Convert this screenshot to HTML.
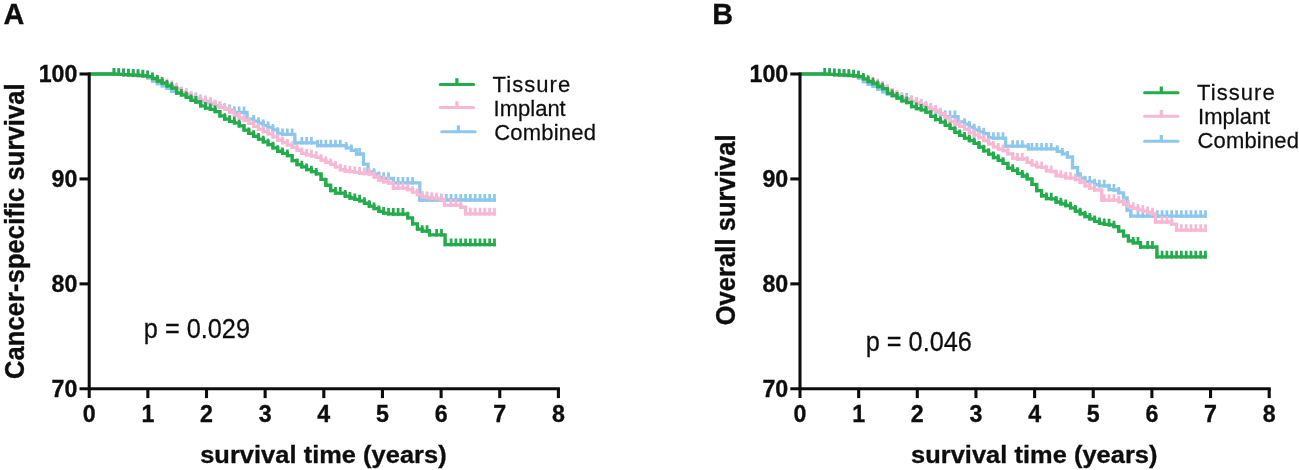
<!DOCTYPE html>
<html lang="en"><head><meta charset="utf-8"><title>Survival curves</title>
<style>html,body{margin:0;padding:0;background:#fff;}svg{display:block;}</style></head>
<body>
<svg width="1299" height="470" viewBox="0 0 1299 470">
<defs><filter id="soft" x="0" y="0" width="1299" height="470" filterUnits="userSpaceOnUse"><feGaussianBlur stdDeviation="0.3"/></filter></defs>
<rect width="1299" height="470" fill="#ffffff"/>
<g filter="url(#soft)">
<path d="M89.20,74.00H113.95V74.08H118.77V74.36H123.58V74.64H128.40V74.92H133.22V75.20H138.03V75.49H142.85V76.37H147.67V77.93H152.48V81.06H157.30V83.64H162.11V85.83H166.93V88.46H171.75V91.25H176.56V93.38H181.38V94.97H186.20V96.36H191.01V97.67H195.83V98.49H200.65V100.84H205.46V102.65H210.28V104.28H215.10V105.87H219.91V107.44H224.73V109.18H229.54V110.40H234.36V112.50H239.18H243.99H247.02V119.20H253.63V121.03H258.44V123.24H263.26V125.59H268.08V127.55H272.89V129.88H277.71V133.37H282.53V134.40H287.34H292.16H294.82V142.90H301.79H306.61H311.42H317.52V145.70H321.06H325.87H330.69H335.51H340.32H346.22V147.90H351.32V150.40H356.42V154.00H359.59H363.52V164.20H368.02V172.00H374.04V174.17H378.86V177.48H383.67V178.30H388.49H393.32V182.90H398.12H402.94H407.75H412.57H419.82V200.00H422.20H427.02H431.84H436.65H441.47H446.29H451.10H455.92H460.73H465.55H470.37H475.18H480.00H484.82H489.63H494.45H495.80" fill="none" stroke="#8CC8EE" stroke-width="3.3" stroke-linejoin="miter"/>
<path d="M113.95,75.73V68.08M118.77,76.01V68.36M123.58,76.29V68.64M128.40,76.57V68.92M133.22,76.85V69.20M138.03,77.14V69.49M142.85,78.02V70.37M147.67,79.58V71.93M152.48,82.71V75.06M157.30,85.29V77.64M162.11,87.48V79.83M166.93,90.11V82.46M171.75,92.90V85.25M176.56,95.03V87.38M181.38,96.62V88.97M186.20,98.01V90.36M191.01,99.32V91.67M195.83,100.14V92.49M200.65,102.49V94.84M205.46,104.30V96.65M210.28,105.93V98.28M215.10,107.52V99.87M219.91,109.09V101.44M224.73,110.83V103.18M229.54,112.05V104.40M234.36,114.15V106.50M239.18,114.15V106.50M243.99,114.15V106.50M247.02,120.85V113.20M253.63,122.68V115.03M258.44,124.89V117.24M263.26,127.24V119.59M268.08,129.20V121.55M272.89,131.53V123.88M277.71,135.02V127.37M282.53,136.05V128.40M287.34,136.05V128.40M292.16,136.05V128.40M294.82,144.55V136.90M301.79,144.55V136.90M306.61,144.55V136.90M311.42,144.55V136.90M317.52,147.35V139.70M321.06,147.35V139.70M325.87,147.35V139.70M330.69,147.35V139.70M335.51,147.35V139.70M340.32,147.35V139.70M346.22,149.55V141.90M351.32,152.05V144.40M356.42,155.65V148.00M359.59,155.65V148.00M363.52,165.85V158.20M368.02,173.65V166.00M374.04,175.82V168.17M378.86,179.13V171.48M383.67,179.95V172.30M388.49,179.95V172.30M393.32,184.55V176.90M398.12,184.55V176.90M402.94,184.55V176.90M407.75,184.55V176.90M412.57,184.55V176.90M419.82,201.65V194.00M422.20,201.65V194.00M427.02,201.65V194.00M431.84,201.65V194.00M436.65,201.65V194.00M441.47,201.65V194.00M446.29,201.65V194.00M451.10,201.65V194.00M455.92,201.65V194.00M460.73,201.65V194.00M465.55,201.65V194.00M470.37,201.65V194.00M475.18,201.65V194.00M480.00,201.65V194.00M484.82,201.65V194.00M489.63,201.65V194.00M494.45,201.65V194.00" fill="none" stroke="#8CC8EE" stroke-width="2.7"/>
<path d="M89.20,74.00H113.95V74.10H118.77V74.47H123.58V74.83H128.40V75.19H133.22V75.56H138.03V75.92H142.85V76.29H147.67V76.87H152.48V78.79H157.30V80.72H162.11V82.65H166.93V84.57H171.75V86.60H176.56V88.79H181.38V92.47H186.20V94.12H191.01V97.14H195.83V99.75H200.65V100.46H205.46V101.39H210.28V103.20H215.10V105.88H219.91V107.57H224.73V109.46H229.54V112.09H234.36V115.27H239.18V118.02H243.99V120.35H248.81V123.32H253.63V126.40H258.44V129.38H263.26V131.68H268.08V133.93H272.89V136.88H277.71V140.07H282.53V142.50H287.34V144.88H292.16V147.32H296.98V150.25H301.79V153.46H306.61V154.89H311.42V155.78H316.24V157.28H321.06V160.21H325.87V162.44H330.69V164.46H335.51V166.94H340.32V169.75H345.14V171.01H349.96V171.70H354.77V172.39H359.59V173.08H364.41V173.50H369.22V174.01H374.04V176.98H378.86V180.07H383.67V181.82H388.49V183.00H393.30V188.20H398.12H402.94H407.75V189.51H412.57V192.19H417.39V194.55H422.20V196.93H427.02V197.53H431.84V198.13H436.65V198.78H441.47V199.48H444.42V205.10H451.10H455.92H460.73V207.25H465.55V213.80H470.37H475.18H480.00H484.82H489.63H494.45H495.80" fill="none" stroke="#F8B8D4" stroke-width="3.3" stroke-linejoin="miter"/>
<path d="M113.95,75.75V68.10M118.77,76.12V68.47M123.58,76.48V68.83M128.40,76.84V69.19M133.22,77.21V69.56M138.03,77.57V69.92M142.85,77.94V70.29M147.67,78.52V70.87M152.48,80.44V72.79M157.30,82.37V74.72M162.11,84.30V76.65M166.93,86.22V78.57M171.75,88.25V80.60M176.56,90.44V82.79M181.38,94.12V86.47M186.20,95.77V88.12M191.01,98.79V91.14M195.83,101.40V93.75M200.65,102.11V94.46M205.46,103.04V95.39M210.28,104.85V97.20M215.10,107.53V99.88M219.91,109.22V101.57M224.73,111.11V103.46M229.54,113.74V106.09M234.36,116.92V109.27M239.18,119.67V112.02M243.99,122.00V114.35M248.81,124.97V117.32M253.63,128.05V120.40M258.44,131.03V123.38M263.26,133.33V125.68M268.08,135.58V127.93M272.89,138.53V130.88M277.71,141.72V134.07M282.53,144.15V136.50M287.34,146.53V138.88M292.16,148.97V141.32M296.98,151.90V144.25M301.79,155.11V147.46M306.61,156.54V148.89M311.42,157.43V149.78M316.24,158.93V151.28M321.06,161.86V154.21M325.87,164.09V156.44M330.69,166.11V158.46M335.51,168.59V160.94M340.32,171.40V163.75M345.14,172.66V165.01M349.96,173.35V165.70M354.77,174.04V166.39M359.59,174.73V167.08M364.41,175.15V167.50M369.22,175.66V168.01M374.04,178.63V170.98M378.86,181.72V174.07M383.67,183.47V175.82M388.49,184.65V177.00M393.30,189.85V182.20M398.12,189.85V182.20M402.94,189.85V182.20M407.75,191.16V183.51M412.57,193.84V186.19M417.39,196.20V188.55M422.20,198.58V190.93M427.02,199.18V191.53M431.84,199.78V192.13M436.65,200.43V192.78M441.47,201.13V193.48M444.42,206.75V199.10M451.10,206.75V199.10M455.92,206.75V199.10M460.73,208.90V201.25M465.55,215.45V207.80M470.37,215.45V207.80M475.18,215.45V207.80M480.00,215.45V207.80M484.82,215.45V207.80M489.63,215.45V207.80M494.45,215.45V207.80" fill="none" stroke="#F8B8D4" stroke-width="2.7"/>
<path d="M89.20,74.00H113.95V74.07H118.77V74.32H123.58V74.58H128.40V74.83H133.22V75.07H138.03V75.30H142.85V75.77H147.67V76.57H152.48V78.49H157.30V81.02H162.11V83.14H166.93V85.96H171.75V88.18H176.56V92.86H181.38V94.96H186.20V97.47H191.01V100.39H195.83V102.02H200.65V105.97H205.46V108.09H210.28V109.38H215.10V111.57H219.91V115.89H224.73V119.15H229.54V121.32H234.36V122.80H239.18V125.79H243.99V130.06H248.81V133.47H253.63V136.25H258.44V139.03H263.26V141.81H268.08V144.72H272.89V147.87H277.71V151.26H282.53V153.40H287.34V155.57H292.16V160.67H296.98V164.61H301.79V166.78H306.61V169.57H311.42V171.69H316.24V173.93H321.06V179.37H325.87V185.25H330.69V190.54H335.51V193.10H340.32H345.14V196.08H349.96V197.99H354.77V199.42H359.59V200.84H364.41V203.25H369.22V206.17H374.04V208.53H378.86V211.41H383.67V213.11H388.49V213.93H393.30V214.10H398.12H402.94H407.75V217.86H412.57V223.78H417.39V229.22H422.20V231.20H427.02H429.52V234.90H436.65H441.47H445.12V244.60H451.10H455.92H460.73H465.55H470.37H475.18H480.00H484.82H489.63H494.45H495.80" fill="none" stroke="#21AC4B" stroke-width="3.3" stroke-linejoin="miter"/>
<path d="M113.95,75.72V68.07M118.77,75.97V68.32M123.58,76.23V68.58M128.40,76.48V68.83M133.22,76.72V69.07M138.03,76.95V69.30M142.85,77.42V69.77M147.67,78.22V70.57M152.48,80.14V72.49M157.30,82.67V75.02M162.11,84.79V77.14M166.93,87.61V79.96M171.75,89.83V82.18M176.56,94.51V86.86M181.38,96.61V88.96M186.20,99.12V91.47M191.01,102.04V94.39M195.83,103.67V96.02M200.65,107.62V99.97M205.46,109.74V102.09M210.28,111.03V103.38M215.10,113.22V105.57M219.91,117.54V109.89M224.73,120.80V113.15M229.54,122.97V115.32M234.36,124.45V116.80M239.18,127.44V119.79M243.99,131.71V124.06M248.81,135.12V127.47M253.63,137.90V130.25M258.44,140.68V133.03M263.26,143.46V135.81M268.08,146.37V138.72M272.89,149.52V141.87M277.71,152.91V145.26M282.53,155.05V147.40M287.34,157.22V149.57M292.16,162.32V154.67M296.98,166.26V158.61M301.79,168.43V160.78M306.61,171.22V163.57M311.42,173.34V165.69M316.24,175.58V167.93M321.06,181.02V173.37M325.87,186.90V179.25M330.69,192.19V184.54M335.51,194.75V187.10M340.32,194.75V187.10M345.14,197.73V190.08M349.96,199.64V191.99M354.77,201.07V193.42M359.59,202.49V194.84M364.41,204.90V197.25M369.22,207.82V200.17M374.04,210.18V202.53M378.86,213.06V205.41M383.67,214.76V207.11M388.49,215.58V207.93M393.30,215.75V208.10M398.12,215.75V208.10M402.94,215.75V208.10M407.75,219.51V211.86M412.57,225.43V217.78M417.39,230.87V223.22M422.20,232.85V225.20M427.02,232.85V225.20M429.52,236.55V228.90M436.65,236.55V228.90M441.47,236.55V228.90M445.12,246.25V238.60M451.10,246.25V238.60M455.92,246.25V238.60M460.73,246.25V238.60M465.55,246.25V238.60M470.37,246.25V238.60M475.18,246.25V238.60M480.00,246.25V238.60M484.82,246.25V238.60M489.63,246.25V238.60M494.45,246.25V238.60" fill="none" stroke="#21AC4B" stroke-width="2.7"/>
<g stroke="#111111" stroke-width="3.1" fill="none">
<path d="M89.20,72.45V398.10"/>
<path d="M79.50,388.8H559.95"/>
<path d="M79.50,74.00H89.20"/>
<path d="M79.50,178.93H89.20"/>
<path d="M79.50,283.87H89.20"/>
<path d="M147.85,388.8V398.10"/>
<path d="M206.50,388.8V398.10"/>
<path d="M265.15,388.8V398.10"/>
<path d="M323.80,388.8V398.10"/>
<path d="M382.45,388.8V398.10"/>
<path d="M441.10,388.8V398.10"/>
<path d="M499.75,388.8V398.10"/>
<path d="M558.40,388.8V398.10"/>
</g>
<g font-family="Liberation Sans, Arial, sans-serif" font-weight="bold" font-size="23.2" fill="#111111" stroke="#111111" stroke-width="0.35">
<text x="77.40" y="82.30" text-anchor="end">100</text>
<text x="77.40" y="187.23" text-anchor="end">90</text>
<text x="77.40" y="292.17" text-anchor="end">80</text>
<text x="77.40" y="397.10" text-anchor="end">70</text>
<text x="89.20" y="421.6" text-anchor="middle">0</text>
<text x="147.85" y="421.6" text-anchor="middle">1</text>
<text x="206.50" y="421.6" text-anchor="middle">2</text>
<text x="265.15" y="421.6" text-anchor="middle">3</text>
<text x="323.80" y="421.6" text-anchor="middle">4</text>
<text x="382.45" y="421.6" text-anchor="middle">5</text>
<text x="441.10" y="421.6" text-anchor="middle">6</text>
<text x="499.75" y="421.6" text-anchor="middle">7</text>
<text x="558.40" y="421.6" text-anchor="middle">8</text>
</g>
<path d="M800.00,74.00H824.75V74.08H829.57V74.36H834.39V74.64H839.21V74.92H844.03V75.20H848.84V75.49H853.66V76.38H858.48V78.01H863.30V81.63H868.12V84.25H872.94V86.44H877.76V89.08H882.58V91.87H887.40V93.99H892.22V95.58H897.03V96.97H901.85V98.28H906.67V99.09H911.49V101.46H916.31V103.54H921.13V105.52H925.95V107.54H930.77V109.58H935.59V111.82H940.41V114.35H945.22V116.60H950.04H954.86H958.02V121.80H964.50V124.20H969.32V127.06H974.14V129.84H978.96V131.94H983.78V133.67H988.60V137.64H993.41V138.20H998.23H1003.05H1005.62V146.20H1012.69H1017.51H1022.33H1028.42V148.90H1031.97H1036.79H1041.60H1046.42H1051.24H1057.22V151.30H1062.32V153.90H1067.42V157.00H1072.52V167.70H1077.62V175.01H1080.16V178.12H1084.98V181.68H1089.79V181.89H1094.61V184.70H1099.43V185.80H1104.25H1109.07V189.63H1113.89V190.10H1118.71V192.93H1123.53V197.94H1127.12V210.10H1130.82V216.20H1137.98H1142.80H1147.62H1152.44H1157.26H1162.08H1166.90H1171.72H1176.54H1181.36H1186.17H1190.99H1195.81H1200.63H1205.45H1206.80" fill="none" stroke="#8CC8EE" stroke-width="3.3" stroke-linejoin="miter"/>
<path d="M824.75,75.73V68.08M829.57,76.01V68.36M834.39,76.29V68.64M839.21,76.57V68.92M844.03,76.85V69.20M848.84,77.14V69.49M853.66,78.03V70.38M858.48,79.66V72.01M863.30,83.28V75.63M868.12,85.90V78.25M872.94,88.09V80.44M877.76,90.73V83.08M882.58,93.52V85.87M887.40,95.64V87.99M892.22,97.23V89.58M897.03,98.62V90.97M901.85,99.93V92.28M906.67,100.74V93.09M911.49,103.11V95.46M916.31,105.19V97.54M921.13,107.17V99.52M925.95,109.19V101.54M930.77,111.23V103.58M935.59,113.47V105.82M940.41,116.00V108.35M945.22,118.25V110.60M950.04,118.25V110.60M954.86,118.25V110.60M958.02,123.45V115.80M964.50,125.85V118.20M969.32,128.71V121.06M974.14,131.49V123.84M978.96,133.59V125.94M983.78,135.32V127.67M988.60,139.29V131.64M993.41,139.85V132.20M998.23,139.85V132.20M1003.05,139.85V132.20M1005.62,147.85V140.20M1012.69,147.85V140.20M1017.51,147.85V140.20M1022.33,147.85V140.20M1028.42,150.55V142.90M1031.97,150.55V142.90M1036.79,150.55V142.90M1041.60,150.55V142.90M1046.42,150.55V142.90M1051.24,150.55V142.90M1057.22,152.95V145.30M1062.32,155.55V147.90M1067.42,158.65V151.00M1072.52,169.35V161.70M1077.62,176.66V169.01M1080.16,179.77V172.12M1084.98,183.33V175.68M1089.79,183.54V175.89M1094.61,186.35V178.70M1099.43,187.45V179.80M1104.25,187.45V179.80M1109.07,191.28V183.63M1113.89,191.75V184.10M1118.71,194.58V186.93M1123.53,199.59V191.94M1127.12,211.75V204.10M1130.82,217.85V210.20M1137.98,217.85V210.20M1142.80,217.85V210.20M1147.62,217.85V210.20M1152.44,217.85V210.20M1157.26,217.85V210.20M1162.08,217.85V210.20M1166.90,217.85V210.20M1171.72,217.85V210.20M1176.54,217.85V210.20M1181.36,217.85V210.20M1186.17,217.85V210.20M1190.99,217.85V210.20M1195.81,217.85V210.20M1200.63,217.85V210.20M1205.45,217.85V210.20" fill="none" stroke="#8CC8EE" stroke-width="2.7"/>
<path d="M800.00,74.00H824.75V74.10H829.57V74.47H834.39V74.83H839.21V75.19H844.03V75.56H848.84V75.92H853.66V76.29H858.48V76.87H863.30V78.80H868.12V80.73H872.94V82.66H877.76V84.58H882.58V87.00H887.40V90.26H892.22V94.00H897.03V95.63H901.85V98.67H906.67V101.27H911.49V101.97H916.31V102.90H921.13V104.72H925.95V107.41H930.77V109.09H935.59V110.98H940.41V113.63H945.22V117.96H950.04V121.36H954.86V124.02H959.68V126.40H964.50V129.43H969.32V132.68H974.14V135.15H978.96V137.54H983.78V140.54H988.60V143.79H993.41V146.93H998.23V149.05H1003.05V150.53H1007.87V153.84H1012.69V158.21H1017.51V159.00H1022.33H1027.15V162.29H1031.97V164.97H1036.79V166.81H1041.60V167.47H1046.42V170.86H1051.24V171.55H1056.06V175.48H1060.88V176.17H1065.70V177.79H1070.52V178.15H1075.34V179.65H1080.16V182.27H1084.98V185.88H1089.79V188.03H1094.61V190.01H1101.82V200.20H1104.25H1109.07H1113.89H1118.71V201.66H1123.53V204.37H1128.35V206.30H1133.17V208.25H1137.98V209.89H1142.80V211.06H1147.62V212.38H1152.44V213.84H1155.42V222.00H1162.08H1166.90H1171.72V224.13H1176.54V230.20H1181.36H1186.17H1190.99H1195.81H1200.63H1205.45H1206.80" fill="none" stroke="#F8B8D4" stroke-width="3.3" stroke-linejoin="miter"/>
<path d="M824.75,75.75V68.10M829.57,76.12V68.47M834.39,76.48V68.83M839.21,76.84V69.19M844.03,77.21V69.56M848.84,77.57V69.92M853.66,77.94V70.29M858.48,78.52V70.87M863.30,80.45V72.80M868.12,82.38V74.73M872.94,84.31V76.66M877.76,86.23V78.58M882.58,88.65V81.00M887.40,91.91V84.26M892.22,95.65V88.00M897.03,97.28V89.63M901.85,100.32V92.67M906.67,102.92V95.27M911.49,103.62V95.97M916.31,104.55V96.90M921.13,106.37V98.72M925.95,109.06V101.41M930.77,110.74V103.09M935.59,112.63V104.98M940.41,115.28V107.63M945.22,119.61V111.96M950.04,123.01V115.36M954.86,125.67V118.02M959.68,128.05V120.40M964.50,131.08V123.43M969.32,134.33V126.68M974.14,136.80V129.15M978.96,139.19V131.54M983.78,142.19V134.54M988.60,145.44V137.79M993.41,148.58V140.93M998.23,150.70V143.05M1003.05,152.18V144.53M1007.87,155.49V147.84M1012.69,159.86V152.21M1017.51,160.65V153.00M1022.33,160.65V153.00M1027.15,163.94V156.29M1031.97,166.62V158.97M1036.79,168.46V160.81M1041.60,169.12V161.47M1046.42,172.51V164.86M1051.24,173.20V165.55M1056.06,177.13V169.48M1060.88,177.82V170.17M1065.70,179.44V171.79M1070.52,179.80V172.15M1075.34,181.30V173.65M1080.16,183.92V176.27M1084.98,187.53V179.88M1089.79,189.68V182.03M1094.61,191.66V184.01M1101.82,201.85V194.20M1104.25,201.85V194.20M1109.07,201.85V194.20M1113.89,201.85V194.20M1118.71,203.31V195.66M1123.53,206.02V198.37M1128.35,207.95V200.30M1133.17,209.90V202.25M1137.98,211.54V203.89M1142.80,212.71V205.06M1147.62,214.03V206.38M1152.44,215.49V207.84M1155.42,223.65V216.00M1162.08,223.65V216.00M1166.90,223.65V216.00M1171.72,225.78V218.13M1176.54,231.85V224.20M1181.36,231.85V224.20M1186.17,231.85V224.20M1190.99,231.85V224.20M1195.81,231.85V224.20M1200.63,231.85V224.20M1205.45,231.85V224.20" fill="none" stroke="#F8B8D4" stroke-width="2.7"/>
<path d="M800.00,74.00H824.75V74.07H829.57V74.32H834.39V74.58H839.21V74.83H844.03V75.07H848.84V75.31H853.66V75.77H858.48V76.63H863.30V78.96H868.12V81.53H872.94V83.65H877.76V86.48H882.58V88.70H887.40V93.40H892.22V95.48H897.03V97.99H901.85V100.91H906.67V102.53H911.49V106.51H916.31V108.60H921.13V109.90H925.95V112.12H930.77V116.43H935.59V119.68H940.41V122.21H945.22V125.30H950.04V128.39H954.86V132.35H959.68V135.40H964.50V138.03H969.32V140.63H974.14V143.43H978.96V147.03H983.78V150.79H988.60V154.18H993.41V157.51H998.23V160.34H1003.05V163.28H1007.87V168.10H1012.69V170.32H1017.51V173.31H1022.33V176.02H1027.15V178.80H1031.97V184.33H1036.79V190.71H1041.60V195.76H1046.42V198.62H1051.24V198.79H1056.06V201.99H1060.88V203.78H1065.70V205.52H1070.52V207.79H1075.34V211.04H1080.16V213.75H1084.98V216.72H1089.79V218.91H1094.61V221.39H1099.43V223.39H1104.25V224.46H1109.07V224.79H1113.89V226.69H1118.71V231.20H1123.53V235.86H1128.35V240.88H1133.17V242.90H1137.98H1140.52V247.00H1147.62H1152.44H1156.92V256.80H1162.08H1166.90H1171.72H1176.54H1181.36H1186.17H1190.99H1195.81H1200.63H1205.45H1206.80" fill="none" stroke="#21AC4B" stroke-width="3.3" stroke-linejoin="miter"/>
<path d="M824.75,75.72V68.07M829.57,75.97V68.32M834.39,76.23V68.58M839.21,76.48V68.83M844.03,76.72V69.07M848.84,76.96V69.31M853.66,77.42V69.77M858.48,78.28V70.63M863.30,80.61V72.96M868.12,83.18V75.53M872.94,85.30V77.65M877.76,88.13V80.48M882.58,90.35V82.70M887.40,95.05V87.40M892.22,97.13V89.48M897.03,99.64V91.99M901.85,102.56V94.91M906.67,104.18V96.53M911.49,108.16V100.51M916.31,110.25V102.60M921.13,111.55V103.90M925.95,113.77V106.12M930.77,118.08V110.43M935.59,121.33V113.68M940.41,123.86V116.21M945.22,126.95V119.30M950.04,130.04V122.39M954.86,134.00V126.35M959.68,137.05V129.40M964.50,139.68V132.03M969.32,142.28V134.63M974.14,145.08V137.43M978.96,148.68V141.03M983.78,152.44V144.79M988.60,155.83V148.18M993.41,159.16V151.51M998.23,161.99V154.34M1003.05,164.93V157.28M1007.87,169.75V162.10M1012.69,171.97V164.32M1017.51,174.96V167.31M1022.33,177.67V170.02M1027.15,180.45V172.80M1031.97,185.98V178.33M1036.79,192.36V184.71M1041.60,197.41V189.76M1046.42,200.27V192.62M1051.24,200.44V192.79M1056.06,203.64V195.99M1060.88,205.43V197.78M1065.70,207.17V199.52M1070.52,209.44V201.79M1075.34,212.69V205.04M1080.16,215.40V207.75M1084.98,218.37V210.72M1089.79,220.56V212.91M1094.61,223.04V215.39M1099.43,225.04V217.39M1104.25,226.11V218.46M1109.07,226.44V218.79M1113.89,228.34V220.69M1118.71,232.85V225.20M1123.53,237.51V229.86M1128.35,242.53V234.88M1133.17,244.55V236.90M1137.98,244.55V236.90M1140.52,248.65V241.00M1147.62,248.65V241.00M1152.44,248.65V241.00M1156.92,258.45V250.80M1162.08,258.45V250.80M1166.90,258.45V250.80M1171.72,258.45V250.80M1176.54,258.45V250.80M1181.36,258.45V250.80M1186.17,258.45V250.80M1190.99,258.45V250.80M1195.81,258.45V250.80M1200.63,258.45V250.80M1205.45,258.45V250.80" fill="none" stroke="#21AC4B" stroke-width="2.7"/>
<g stroke="#111111" stroke-width="3.1" fill="none">
<path d="M800.00,72.45V398.10"/>
<path d="M790.30,388.8H1270.75"/>
<path d="M790.30,74.00H800.00"/>
<path d="M790.30,178.93H800.00"/>
<path d="M790.30,283.87H800.00"/>
<path d="M858.65,388.8V398.10"/>
<path d="M917.30,388.8V398.10"/>
<path d="M975.95,388.8V398.10"/>
<path d="M1034.60,388.8V398.10"/>
<path d="M1093.25,388.8V398.10"/>
<path d="M1151.90,388.8V398.10"/>
<path d="M1210.55,388.8V398.10"/>
<path d="M1269.20,388.8V398.10"/>
</g>
<g font-family="Liberation Sans, Arial, sans-serif" font-weight="bold" font-size="23.2" fill="#111111" stroke="#111111" stroke-width="0.35">
<text x="788.20" y="82.30" text-anchor="end">100</text>
<text x="788.20" y="187.23" text-anchor="end">90</text>
<text x="788.20" y="292.17" text-anchor="end">80</text>
<text x="788.20" y="397.10" text-anchor="end">70</text>
<text x="800.00" y="421.6" text-anchor="middle">0</text>
<text x="858.65" y="421.6" text-anchor="middle">1</text>
<text x="917.30" y="421.6" text-anchor="middle">2</text>
<text x="975.95" y="421.6" text-anchor="middle">3</text>
<text x="1034.60" y="421.6" text-anchor="middle">4</text>
<text x="1093.25" y="421.6" text-anchor="middle">5</text>
<text x="1151.90" y="421.6" text-anchor="middle">6</text>
<text x="1210.55" y="421.6" text-anchor="middle">7</text>
<text x="1269.20" y="421.6" text-anchor="middle">8</text>
</g>
<text transform="translate(3.40,23.80) scale(1,1.04)" font-family="Liberation Sans, Arial, sans-serif" font-size="28.8" fill="#111111" font-weight="bold" stroke="#111111" stroke-width="0.35">A</text>
<text transform="translate(712.20,23.80) scale(1,1.04)" font-family="Liberation Sans, Arial, sans-serif" font-size="28.8" fill="#111111" font-weight="bold" stroke="#111111" stroke-width="0.35">B</text>
<text transform="translate(200.20,463.20) scale(1,0.97)" font-family="Liberation Sans, Arial, sans-serif" font-size="25.4" fill="#111111" font-weight="bold" stroke="#111111" stroke-width="0.35" textLength="246.5" lengthAdjust="spacing">survival time (years)</text>
<text transform="translate(911.00,463.20) scale(1,0.97)" font-family="Liberation Sans, Arial, sans-serif" font-size="25.4" fill="#111111" font-weight="bold" stroke="#111111" stroke-width="0.35" textLength="246.5" lengthAdjust="spacing">survival time (years)</text>
<text transform="translate(23.60,378.90) rotate(-90) scale(1,1.07)" font-family="Liberation Sans, Arial, sans-serif" font-size="25.4" fill="#111111" font-weight="bold" stroke="#111111" stroke-width="0.35" textLength="295.5" lengthAdjust="spacing">Cancer-specific survival</text>
<text transform="translate(734.60,325.30) rotate(-90) scale(1,1.07)" font-family="Liberation Sans, Arial, sans-serif" font-size="25.4" fill="#111111" font-weight="bold" stroke="#111111" stroke-width="0.35" textLength="190.8" lengthAdjust="spacing">Overall survival</text>
<text transform="translate(143.80,337.80) scale(1,1.07)" font-family="Liberation Sans, Arial, sans-serif" font-size="25.3" fill="#111111" stroke="#111111" stroke-width="0.25">p = 0.029</text>
<text transform="translate(865.70,351.30) scale(1,1.07)" font-family="Liberation Sans, Arial, sans-serif" font-size="25.3" fill="#111111" stroke="#111111" stroke-width="0.25">p = 0.046</text>
<path d="M440.20,84.50h33.4" stroke="#21AC4B" stroke-width="3.0" stroke-linecap="round" fill="none"/>
<path d="M456.90,84.50v-6.3" stroke="#21AC4B" stroke-width="3.2" fill="none"/>
<text transform="translate(492.60,91.60) scale(1,1.04)" font-family="Liberation Sans, Arial, sans-serif" font-size="22" fill="#111111" stroke="#111111" stroke-width="0.25" textLength="77.6" lengthAdjust="spacing">Tissure</text>
<path d="M440.20,107.50h33.4" stroke="#F8B8D4" stroke-width="3.0" stroke-linecap="round" fill="none"/>
<path d="M456.90,107.50v-6.3" stroke="#F8B8D4" stroke-width="3.2" fill="none"/>
<text transform="translate(493.60,115.60) scale(1,1.04)" font-family="Liberation Sans, Arial, sans-serif" font-size="22" fill="#111111" stroke="#111111" stroke-width="0.25">Implant</text>
<path d="M441.70,131.70h33.4" stroke="#8CC8EE" stroke-width="3.0" stroke-linecap="round" fill="none"/>
<path d="M458.40,131.70v-6.3" stroke="#8CC8EE" stroke-width="3.2" fill="none"/>
<text transform="translate(494.30,139.60) scale(1,1.04)" font-family="Liberation Sans, Arial, sans-serif" font-size="22" fill="#111111" stroke="#111111" stroke-width="0.25" textLength="101.6" lengthAdjust="spacing">Combined</text>
<path d="M1144.60,92.80h33.4" stroke="#21AC4B" stroke-width="3.0" stroke-linecap="round" fill="none"/>
<path d="M1161.30,92.80v-6.3" stroke="#21AC4B" stroke-width="3.2" fill="none"/>
<text transform="translate(1197.10,99.80) scale(1,1.04)" font-family="Liberation Sans, Arial, sans-serif" font-size="22" fill="#111111" stroke="#111111" stroke-width="0.25" textLength="77.6" lengthAdjust="spacing">Tissure</text>
<path d="M1144.60,116.20h33.4" stroke="#F8B8D4" stroke-width="3.0" stroke-linecap="round" fill="none"/>
<path d="M1161.30,116.20v-6.3" stroke="#F8B8D4" stroke-width="3.2" fill="none"/>
<text transform="translate(1198.10,123.90) scale(1,1.04)" font-family="Liberation Sans, Arial, sans-serif" font-size="22" fill="#111111" stroke="#111111" stroke-width="0.25">Implant</text>
<path d="M1144.60,141.30h33.4" stroke="#8CC8EE" stroke-width="3.0" stroke-linecap="round" fill="none"/>
<path d="M1161.30,141.30v-6.3" stroke="#8CC8EE" stroke-width="3.2" fill="none"/>
<text transform="translate(1197.40,148.30) scale(1,1.04)" font-family="Liberation Sans, Arial, sans-serif" font-size="22" fill="#111111" stroke="#111111" stroke-width="0.25" textLength="101.6" lengthAdjust="spacing">Combined</text>
</g>
</svg>
</body></html>
